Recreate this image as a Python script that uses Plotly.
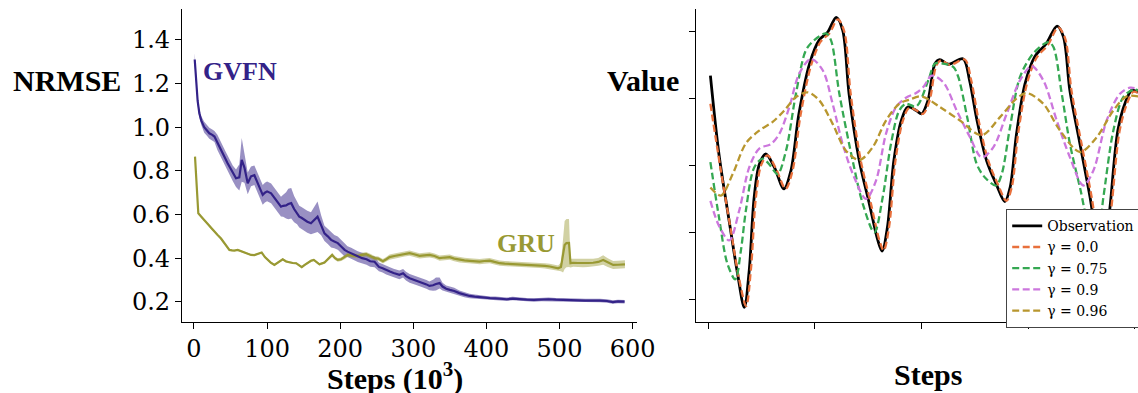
import plotly.graph_objects as go

W, H = 1138, 393

# ---------------- Left panel data (Steps in 10^3, NRMSE) ----------------
gvfn_x = [1, 2, 3.2, 5, 7.3, 10, 14, 18, 21, 25, 28, 32, 36, 39, 43, 46, 50, 53, 57.5, 62,
          65.3, 69, 73.5, 78, 82.6, 87, 91, 94, 97, 100, 105.5, 109, 112.3, 116, 119, 122, 126,
          129, 133, 137, 141, 144, 147, 151, 155, 160, 165, 169, 174, 178.5, 183, 187.6, 192,
          196.7, 201, 206, 210, 215, 220, 224, 230, 236, 241, 247, 253, 258, 263, 268, 273, 277,
          281, 286, 290, 295, 300, 305, 309, 314, 318, 322, 327, 331, 336, 340, 345, 350, 356,
          363, 370, 377, 384, 391, 398, 405, 412, 420, 428, 436, 445, 455, 465, 475, 485, 495,
          505, 515, 525, 535, 545, 555, 565, 573, 580, 589]
gvfn_y = [1.31, 1.25, 1.185, 1.12, 1.064, 1.03, 1.0, 0.985, 0.972, 0.965, 0.957, 0.93, 0.905,
          0.88, 0.855, 0.835, 0.81, 0.789, 0.766, 0.77, 0.85, 0.815, 0.743, 0.775, 0.78, 0.745,
          0.715, 0.69, 0.70, 0.706, 0.697, 0.68, 0.667, 0.65, 0.636, 0.64, 0.642, 0.648, 0.652,
          0.625, 0.605, 0.59, 0.585, 0.575, 0.567, 0.56, 0.575, 0.59, 0.55, 0.514, 0.5, 0.484,
          0.476, 0.469, 0.455, 0.438, 0.43, 0.423, 0.414, 0.407, 0.40, 0.395, 0.386, 0.384, 0.36,
          0.354, 0.345, 0.339, 0.332, 0.328, 0.324, 0.331, 0.318, 0.308, 0.302, 0.296, 0.293,
          0.286, 0.28, 0.273, 0.276, 0.282, 0.286, 0.27, 0.26, 0.255, 0.25, 0.24, 0.233, 0.227,
          0.224, 0.221, 0.218, 0.217, 0.216, 0.214, 0.212, 0.215, 0.212, 0.21, 0.209, 0.211,
          0.212, 0.21, 0.208, 0.209, 0.207, 0.206, 0.207, 0.206, 0.204, 0.199, 0.202, 0.201]
gvfn_err = [0.03, 0.025, 0.02, 0.02, 0.02, 0.02, 0.025, 0.025, 0.025, 0.025, 0.025, 0.035, 0.035,
            0.035, 0.035, 0.035, 0.035, 0.035, 0.04, 0.06, 0.1, 0.07, 0.05, 0.045, 0.045, 0.045,
            0.045, 0.045, 0.045, 0.045, 0.045, 0.045, 0.045, 0.045, 0.045, 0.05, 0.06, 0.07, 0.07,
            0.06, 0.05, 0.05, 0.05, 0.05, 0.05, 0.05, 0.06, 0.07, 0.045, 0.035, 0.035, 0.035,
            0.03, 0.03, 0.03, 0.03, 0.025, 0.025, 0.025, 0.025, 0.025, 0.025, 0.025, 0.025, 0.02,
            0.02, 0.02, 0.02, 0.02, 0.02, 0.02, 0.02, 0.02, 0.02, 0.02, 0.02, 0.02, 0.02, 0.02,
            0.02, 0.025, 0.03, 0.025, 0.018, 0.015, 0.015, 0.015, 0.012, 0.012, 0.01, 0.01, 0.01,
            0.008, 0.008, 0.008, 0.008, 0.008, 0.008, 0.008, 0.008, 0.008, 0.008, 0.008, 0.008,
            0.008, 0.008, 0.008, 0.008, 0.008, 0.008, 0.008, 0.008, 0.008, 0.008]

gru_x = [1.4, 3, 5.9, 10, 14, 18, 23, 28, 32, 37, 41.5, 45, 48.4, 52, 55.2, 59.8, 64, 68.9, 73,
         78, 82.6, 88, 92.6, 97, 100.8, 105, 110, 115, 121.4, 126, 130.5, 135, 139.7, 144, 147.4,
         151, 155.6, 160, 163.9, 168, 171.6, 178.5, 184, 189, 193, 196.7, 201.3, 206, 210.4, 217,
         224, 230, 235.6, 241, 247, 252, 258.4, 263, 267.5, 274, 281.2, 288, 294.9, 301, 308.6,
         315, 322.3, 329, 336, 343, 349.7, 356, 363.4, 370, 377.1, 384, 390.8, 397, 404.5, 411,
         418.2, 425, 431.9, 439, 445.6, 452, 459.3, 466, 473, 480, 486.7, 493, 498.1, 502, 504.9,
         507, 509.5, 513, 515, 518.7, 525, 532.3, 539, 546, 553, 559.7, 566, 573.4, 580, 589.5]
gru_y = [0.865, 0.75, 0.606, 0.59, 0.575, 0.56, 0.537, 0.52, 0.507, 0.49, 0.469, 0.452, 0.438,
         0.436, 0.435, 0.438, 0.432, 0.426, 0.42, 0.415, 0.414, 0.42, 0.426, 0.405, 0.392, 0.38,
         0.369, 0.38, 0.395, 0.385, 0.38, 0.378, 0.377, 0.368, 0.359, 0.368, 0.38, 0.388, 0.392,
         0.38, 0.372, 0.38, 0.40, 0.415, 0.40, 0.392, 0.395, 0.405, 0.415, 0.412, 0.41, 0.415,
         0.418, 0.41, 0.40, 0.398, 0.386, 0.395, 0.405, 0.41, 0.415, 0.42, 0.423, 0.418, 0.411,
         0.413, 0.415, 0.41, 0.40, 0.403, 0.405, 0.398, 0.392, 0.39, 0.388, 0.386, 0.384, 0.387,
         0.389, 0.383, 0.377, 0.375, 0.374, 0.373, 0.373, 0.371, 0.369, 0.368, 0.367, 0.365,
         0.362, 0.358, 0.354, 0.36, 0.415, 0.46, 0.469, 0.47, 0.377, 0.379, 0.378, 0.377, 0.378,
         0.379, 0.383, 0.392, 0.38, 0.369, 0.37, 0.372]
gru_err = [0.004, 0.004, 0.004, 0.004, 0.004, 0.004, 0.004, 0.004, 0.004, 0.004, 0.004, 0.004,
           0.004, 0.004, 0.004, 0.004, 0.004, 0.004, 0.004, 0.004, 0.004, 0.004, 0.004, 0.005,
           0.005, 0.005, 0.005, 0.005, 0.005, 0.005, 0.005, 0.005, 0.005, 0.005, 0.005, 0.005,
           0.005, 0.005, 0.005, 0.005, 0.005, 0.006, 0.008, 0.008, 0.008, 0.008, 0.008, 0.01,
           0.01, 0.01, 0.01, 0.01, 0.01, 0.01, 0.01, 0.01, 0.01, 0.01, 0.012, 0.012, 0.012,
           0.012, 0.012, 0.012, 0.012, 0.012, 0.012, 0.012, 0.012, 0.012, 0.012, 0.012, 0.012,
           0.012, 0.012, 0.012, 0.012, 0.012, 0.012, 0.012, 0.012, 0.012, 0.012, 0.012, 0.012,
           0.012, 0.012, 0.012, 0.012, 0.012, 0.012, 0.012, 0.012, 0.02, 0.08, 0.11, 0.11, 0.11,
           0.02, 0.018, 0.018, 0.018, 0.018, 0.018, 0.018, 0.022, 0.02, 0.018, 0.018, 0.018]

left_xticks = [0, 100, 200, 300, 400, 500, 600]
left_yticks = [0.2, 0.4, 0.6, 0.8, 1.0, 1.2, 1.4]

# ---------------- Right panel data (Steps, Value) ----------------
obs_s = [2, 10, 20, 27.5, 33.8, 38.4, 43, 48, 54, 62, 71, 77.5, 85, 95, 104, 112, 120, 126, 132,
         141.6, 151, 159, 163, 168, 174, 181, 187, 195, 200, 206, 212.6, 217, 225, 239, 245, 252,
         261, 270, 278, 283, 289, 297, 306, 317, 327, 333, 339, 348.5, 358, 364, 370, 376.6, 384,
         391, 397, 403]
obs_v = [3.34, 2.17, 1.13, 0.38, -0.12, 0.43, 1.52, 2.02, 2.17, 1.97, 1.65, 1.92, 2.77, 3.52,
         3.87, 3.99, 4.21, 4.02, 3.07, 2.07, 1.43, 0.88, 0.72, 1.08, 2.07, 2.67, 2.87, 2.82, 2.77,
         2.97, 3.52, 3.58, 3.51, 3.59, 3.27, 2.67, 2.07, 1.72, 1.46, 1.67, 2.47, 3.22, 3.62, 3.82,
         4.08, 3.92, 3.12, 2.32, 1.52, 0.9, 0.5, 1.37, 2.52, 2.94, 3.12, 3.09]

g00_s = [2, 11, 21, 29, 35.5, 40, 44.5, 49.5, 55.5, 63.5, 72.5, 79, 86.5, 96.5, 105.5, 113.5,
         121.5, 127.5, 133.5, 143, 152.5, 160.5, 164.5, 169.5, 175.5, 182.5, 188.5, 196.5, 201.5,
         207.5, 214, 218.5, 226.5, 240.5, 246.5, 253.5, 262.5, 271.5, 279.5, 284.5, 290.5, 298.5,
         307.5, 318.5, 328, 334.5, 340.5, 350, 359.5, 365.5, 371.5, 378, 385.5, 392.5, 398.5, 403]
g00_v = [2.92, 2.0, 1.05, 0.3, -0.1, 0.45, 1.5, 2.0, 2.15, 1.95, 1.65, 1.92, 2.75, 3.5, 3.85,
         3.97, 4.18, 4.0, 3.07, 2.07, 1.43, 0.88, 0.73, 1.08, 2.07, 2.67, 2.86, 2.81, 2.77, 2.97,
         3.5, 3.57, 3.5, 3.58, 3.27, 2.67, 2.07, 1.72, 1.47, 1.67, 2.47, 3.2, 3.6, 3.8, 4.06, 3.9,
         3.12, 2.32, 1.52, 0.9, 0.5, 1.37, 2.5, 2.92, 3.1, 3.08]

g75_s = [2, 10, 18, 25.3, 30.6, 35.3, 43.1, 51, 58, 65, 72.9, 82.2, 91.6, 99.4, 110.4, 115, 122.9,
         135.4, 144.8, 155.7, 163.5, 171.3, 179.1, 185.4, 195, 206.3, 212.6, 220, 229.7, 234.4,
         243, 251.7, 259.4, 269.8, 275.1, 282.9, 292.3, 304.7, 318.8, 323.5, 331.4, 339.1, 348.5,
         358, 365, 370.4, 379.8, 389.1, 398.5, 403]
g75_v = [2.05, 1.23, 0.53, 0.30, 0.73, 1.33, 1.97, 2.10, 2.0, 1.87, 2.22, 3.07, 3.72, 3.87, 3.97,
         3.87, 3.07, 2.07, 1.43, 1.0, 1.52, 2.32, 2.82, 2.92, 2.88, 3.27, 3.52, 3.52, 3.47, 3.32,
         2.7, 2.02, 1.82, 1.70, 1.87, 2.57, 3.32, 3.67, 3.84, 3.77, 3.07, 2.32, 1.67, 1.05, 0.95,
         1.52, 2.52, 3.02, 3.13, 3.12]

g90_s = [2, 10, 19.7, 29.1, 38.4, 47.8, 58.8, 66.6, 76, 85.3, 96.3, 107.3, 116.6, 126, 136.9,
         147.9, 157.2, 166.6, 176, 185.4, 194.8, 201.6, 209.5, 220.4, 232.9, 245.4, 256.3, 267.2,
         279.8, 292.3, 303.2, 314.1, 326.7, 339.1, 351.6, 361, 373.5, 386, 395.4, 403]
g90_v = [1.47, 1.1, 0.88, 1.33, 1.97, 2.25, 2.32, 2.47, 2.87, 3.37, 3.59, 3.42, 2.92, 2.32, 1.82,
         1.50, 1.77, 2.47, 2.87, 3.01, 3.08, 3.17, 3.34, 3.24, 2.82, 2.42, 2.12, 2.27, 2.77, 3.27,
         3.48, 3.27, 2.67, 2.12, 1.70, 1.92, 2.67, 3.07, 3.16, 3.14]

g96_s = [2, 11.9, 22.9, 35.3, 47.8, 60.4, 71.3, 82.2, 93.2, 104.1, 116.6, 129.1, 141.6, 154.1,
         166.6, 179.1, 188.5, 200, 217.3, 236, 256.3, 273.5, 289.2, 298.5, 314.1, 329.8, 348.5,
         364.2, 379.8, 392.3, 403]
g96_v = [1.67, 1.55, 1.87, 2.33, 2.52, 2.65, 2.82, 3.02, 3.09, 2.97, 2.62, 2.22, 2.08, 2.27, 2.67,
         2.92, 2.98, 3.03, 2.87, 2.67, 2.45, 2.72, 3.00, 3.08, 2.92, 2.52, 2.20, 2.42, 2.82, 3.03,
         3.03]

right_xticks = [0, 100, 200, 300, 400]
right_yticks = [0, 1, 2, 3, 4]

# ---------------- Styling ----------------
C_GVFN = "#332288"
C_GRU = "#999933"
C_OBS = "#000000"
C_00 = "#E8703C"
C_75 = "#35A852"
C_90 = "#CC77DD"
C_96 = "#B8962E"
TICKFONT = dict(family="DejaVu Serif", size=24, color="black")
LABELFONT = "Liberation Serif"


def band(x, y, e, color, xa, ya):
    up = [a + b for a, b in zip(y, e)]
    lo = [a - b for a, b in zip(y, e)]
    return go.Scatter(x=list(x) + list(x)[::-1], y=up + lo[::-1], fill="toself",
                      fillcolor=color, line=dict(width=0), mode="lines",
                      hoverinfo="skip", showlegend=False, xaxis=xa, yaxis=ya)


fig = go.Figure()
fig.add_trace(band(gvfn_x, gvfn_y, gvfn_err, "rgba(51,34,136,0.5)", "x", "y"))
fig.add_trace(band(gru_x, gru_y, gru_err, "rgba(153,153,51,0.45)", "x", "y"))
fig.add_trace(go.Scatter(x=gru_x, y=gru_y, mode="lines", line=dict(color=C_GRU, width=2.2),
                         showlegend=False, xaxis="x", yaxis="y"))
fig.add_trace(go.Scatter(x=gvfn_x, y=gvfn_y, mode="lines", line=dict(color=C_GVFN, width=2.2),
                         showlegend=False, xaxis="x", yaxis="y"))

DASH = "7px,3.5px"
fig.add_trace(go.Scatter(x=obs_s, y=obs_v, mode="lines", name="Observation",
                         line=dict(color=C_OBS, width=2.8, shape="spline", smoothing=0.9),
                         xaxis="x2", yaxis="y2"))
for s, v, c, nm in [(g00_s, g00_v, C_00, "γ = 0.0"), (g75_s, g75_v, C_75, "γ = 0.75"),
                    (g90_s, g90_v, C_90, "γ = 0.9"), (g96_s, g96_v, C_96, "γ = 0.96")]:
    fig.add_trace(go.Scatter(x=s, y=v, mode="lines", name=nm,
                             line=dict(color=c, width=2.3, dash=DASH, shape="spline",
                                       smoothing=0.9),
                             xaxis="x2", yaxis="y2"))

ytop = 1 - 9.3 / H
ybot = 1 - 321.5 / H
axis_common = dict(showgrid=False, zeroline=False, showline=True, linecolor="black",
                   linewidth=1.2, ticks="outside", ticklen=6, tickwidth=1.2,
                   tickcolor="black", mirror=False)

fig.update_layout(
    width=W, height=H, margin=dict(l=0, r=0, t=0, b=0, autoexpand=False),
    paper_bgcolor="white", plot_bgcolor="white",
    xaxis=dict(domain=[182 / W, 637 / W], range=[-16.4, 606], tickvals=left_xticks,
               ticktext=[str(t) for t in left_xticks], tickfont=TICKFONT, anchor="y",
               **axis_common),
    yaxis=dict(domain=[ybot, ytop], range=[0.11, 1.54], tickvals=left_yticks,
               ticktext=[f"{t:.1f}" for t in left_yticks], tickfont=TICKFONT, anchor="x",
               **axis_common),
    xaxis2=dict(domain=[696 / W, 1.0], range=[-11.5, 402.9], tickvals=right_xticks,
                showticklabels=False, anchor="y2", **axis_common),
    yaxis2=dict(domain=[ybot, ytop], range=[-0.33, 4.33], tickvals=right_yticks,
                showticklabels=False, anchor="x2", **axis_common),
    legend=dict(x=1006 / W, y=1 - 209 / H, xanchor="left", yanchor="top",
                bgcolor="white", bordercolor="#444", borderwidth=1.2,
                font=dict(family="DejaVu Serif", size=14, color="black"),
                tracegroupgap=0, itemwidth=30),
    showlegend=True,
)

ann = [
    dict(text="<b>NRMSE</b>", x=67 / W, y=1 - 80 / H, size=30, color="black"),
    dict(text="<b>Value</b>", x=643 / W, y=1 - 80 / H, size=30, color="black"),
    dict(text="<b>Steps (10<sup>3</sup>)</b>", x=395 / W, y=1 - 376 / H, size=30, color="black"),
    dict(text="<b>Steps</b>", x=928 / W, y=1 - 374 / H, size=30, color="black"),
    dict(text="<b>GVFN</b>", x=240 / W, y=1 - 72 / H, size=26, color=C_GVFN),
    dict(text="<b>GRU</b>", x=526 / W, y=1 - 243 / H, size=26, color=C_GRU),
]
for a in ann:
    fig.add_annotation(text=a["text"], x=a["x"], y=a["y"], xref="paper", yref="paper",
                       xanchor="center", yanchor="middle", showarrow=False,
                       font=dict(family=LABELFONT, size=a["size"], color=a["color"]))

fig.write_html("out.html")
